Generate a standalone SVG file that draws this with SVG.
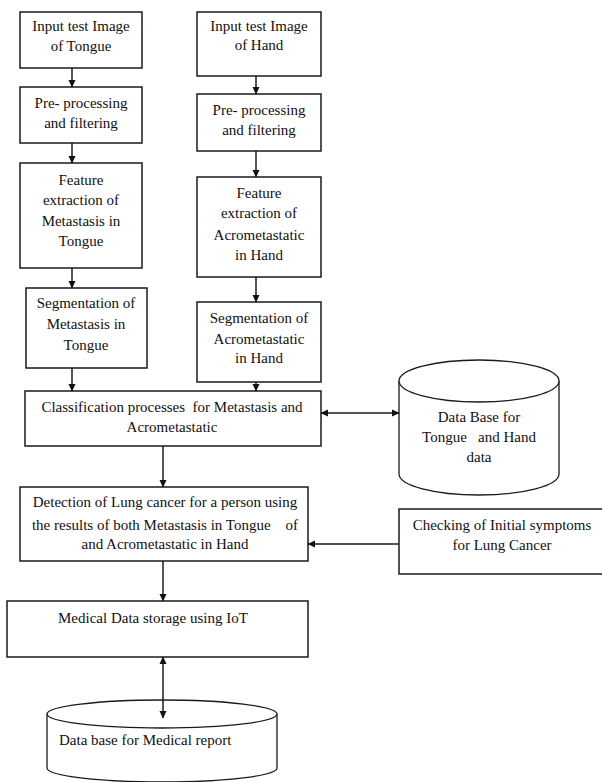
<svg xmlns="http://www.w3.org/2000/svg" width="602" height="782" viewBox="0 0 602 782">
<defs>
<style>
.box{fill:#fff;stroke:#1a1a1a;stroke-width:1.5}
.cyl{fill:#fff;stroke:#1a1a1a;stroke-width:1.3}
text{font-family:'Liberation Serif','Times New Roman','DejaVu Serif',serif;font-size:15px;fill:#111;text-anchor:middle}
text.l{text-anchor:start}
.c{stroke:#1a1a1a;stroke-width:1.5;fill:none}
</style>
<marker id="ah" markerWidth="8" markerHeight="8" refX="7" refY="4" orient="auto-start-reverse" markerUnits="userSpaceOnUse">
<path d="M0,0.5 L7.5,4 L0,7.5 Z" fill="#111"/>
</marker>
</defs>
<rect width="602" height="782" fill="#fff"/>

<g id="tongue-input">
<rect class="box" x="20" y="12" width="122" height="56"/>
<text x="81" y="31">Input test Image</text>
<text x="81" y="51">of Tongue</text>
</g>
<g id="tongue-preprocess">
<rect class="box" x="20" y="87" width="122" height="56"/>
<text x="81" y="108">Pre- processing</text>
<text x="81" y="128">and filtering</text>
</g>
<g id="tongue-feature">
<rect class="box" x="20" y="163" width="122" height="105"/>
<text x="81" y="185">Feature</text>
<text x="81" y="205">extraction of</text>
<text x="81" y="226">Metastasis in</text>
<text x="81" y="246">Tongue</text>
</g>
<g id="tongue-segment">
<rect class="box" x="26" y="288" width="121" height="80"/>
<text x="86" y="308">Segmentation of</text>
<text x="86" y="329">Metastasis in</text>
<text x="86" y="350">Tongue</text>
</g>

<g id="hand-input">
<rect class="box" x="197" y="12" width="124" height="64"/>
<text x="259" y="31">Input test Image</text>
<text x="259" y="50">of Hand</text>
</g>
<g id="hand-preprocess">
<rect class="box" x="197" y="94" width="124" height="57"/>
<text x="259" y="115">Pre- processing</text>
<text x="259" y="135">and filtering</text>
</g>
<g id="hand-feature">
<rect class="box" x="197" y="177" width="124" height="100"/>
<text x="259" y="198">Feature</text>
<text x="259" y="218">extraction of</text>
<text x="259" y="240">Acrometastatic</text>
<text x="259" y="260">in Hand</text>
</g>
<g id="hand-segment">
<rect class="box" x="197" y="302" width="124" height="80"/>
<text x="259" y="323">Segmentation of</text>
<text x="259" y="344">Acrometastatic</text>
<text x="259" y="363">in Hand</text>
</g>

<g id="classification">
<rect class="box" x="25" y="391" width="296" height="55"/>
<text x="172" y="412" xml:space="preserve">Classification processes  for Metastasis and</text>
<text x="172" y="432">Acrometastatic</text>
</g>

<g id="db-tongue-hand">
<path class="cyl" d="M399,381 L399,474 A80,21 0 0 0 559,474 L559,381"/>
<ellipse class="cyl" cx="479" cy="381" rx="80" ry="21"/>
<text x="479" y="422">Data Base for</text>
<text x="479" y="442" xml:space="preserve">Tongue   and Hand</text>
<text x="479" y="462">data</text>
</g>

<g id="detection">
<rect class="box" x="20" y="487" width="288" height="74"/>
<text x="165" y="507">Detection of Lung cancer for a person using</text>
<text x="165" y="530" xml:space="preserve">the results of both Metastasis in Tongue    of</text>
<text x="165" y="549">and Acrometastatic in Hand</text>
</g>

<g id="checking">
<rect class="box" x="399" y="509" width="210" height="65"/>
<text x="502" y="530">Checking of Initial symptoms</text>
<text x="502" y="550">for Lung Cancer</text>
</g>

<g id="iot-storage">
<rect class="box" x="7" y="601" width="301" height="56"/>
<text class="l" x="58" y="623">Medical Data storage using IoT</text>
</g>

<g id="db-medical">
<path class="cyl" d="M47,714 L47,768 A115,14 0 0 0 277,768 L277,714"/>
<ellipse class="cyl" cx="162" cy="714" rx="115" ry="14"/>
<text class="l" x="59" y="745">Data base for Medical report</text>
</g>

<g id="connectors">
<line class="c" x1="72" y1="68" x2="72" y2="87" marker-end="url(#ah)"/>
<line class="c" x1="72" y1="143" x2="72" y2="163" marker-end="url(#ah)"/>
<line class="c" x1="72" y1="268" x2="72" y2="288" marker-end="url(#ah)"/>
<line class="c" x1="72" y1="368" x2="72" y2="391" marker-end="url(#ah)"/>
<line class="c" x1="256" y1="76" x2="256" y2="94" marker-end="url(#ah)"/>
<line class="c" x1="256" y1="151" x2="256" y2="177" marker-end="url(#ah)"/>
<line class="c" x1="256" y1="277" x2="256" y2="302" marker-end="url(#ah)"/>
<line class="c" x1="256" y1="382" x2="256" y2="391" marker-end="url(#ah)"/>
<line class="c" x1="321" y1="413" x2="399" y2="413" marker-start="url(#ah)" marker-end="url(#ah)"/>
<line class="c" x1="163" y1="446" x2="163" y2="487" marker-end="url(#ah)"/>
<line class="c" x1="399" y1="544" x2="308" y2="544" marker-end="url(#ah)"/>
<line class="c" x1="163" y1="561" x2="163" y2="601" marker-end="url(#ah)"/>
<line class="c" x1="163" y1="657" x2="163" y2="718" marker-start="url(#ah)" marker-end="url(#ah)"/>
</g>
</svg>
